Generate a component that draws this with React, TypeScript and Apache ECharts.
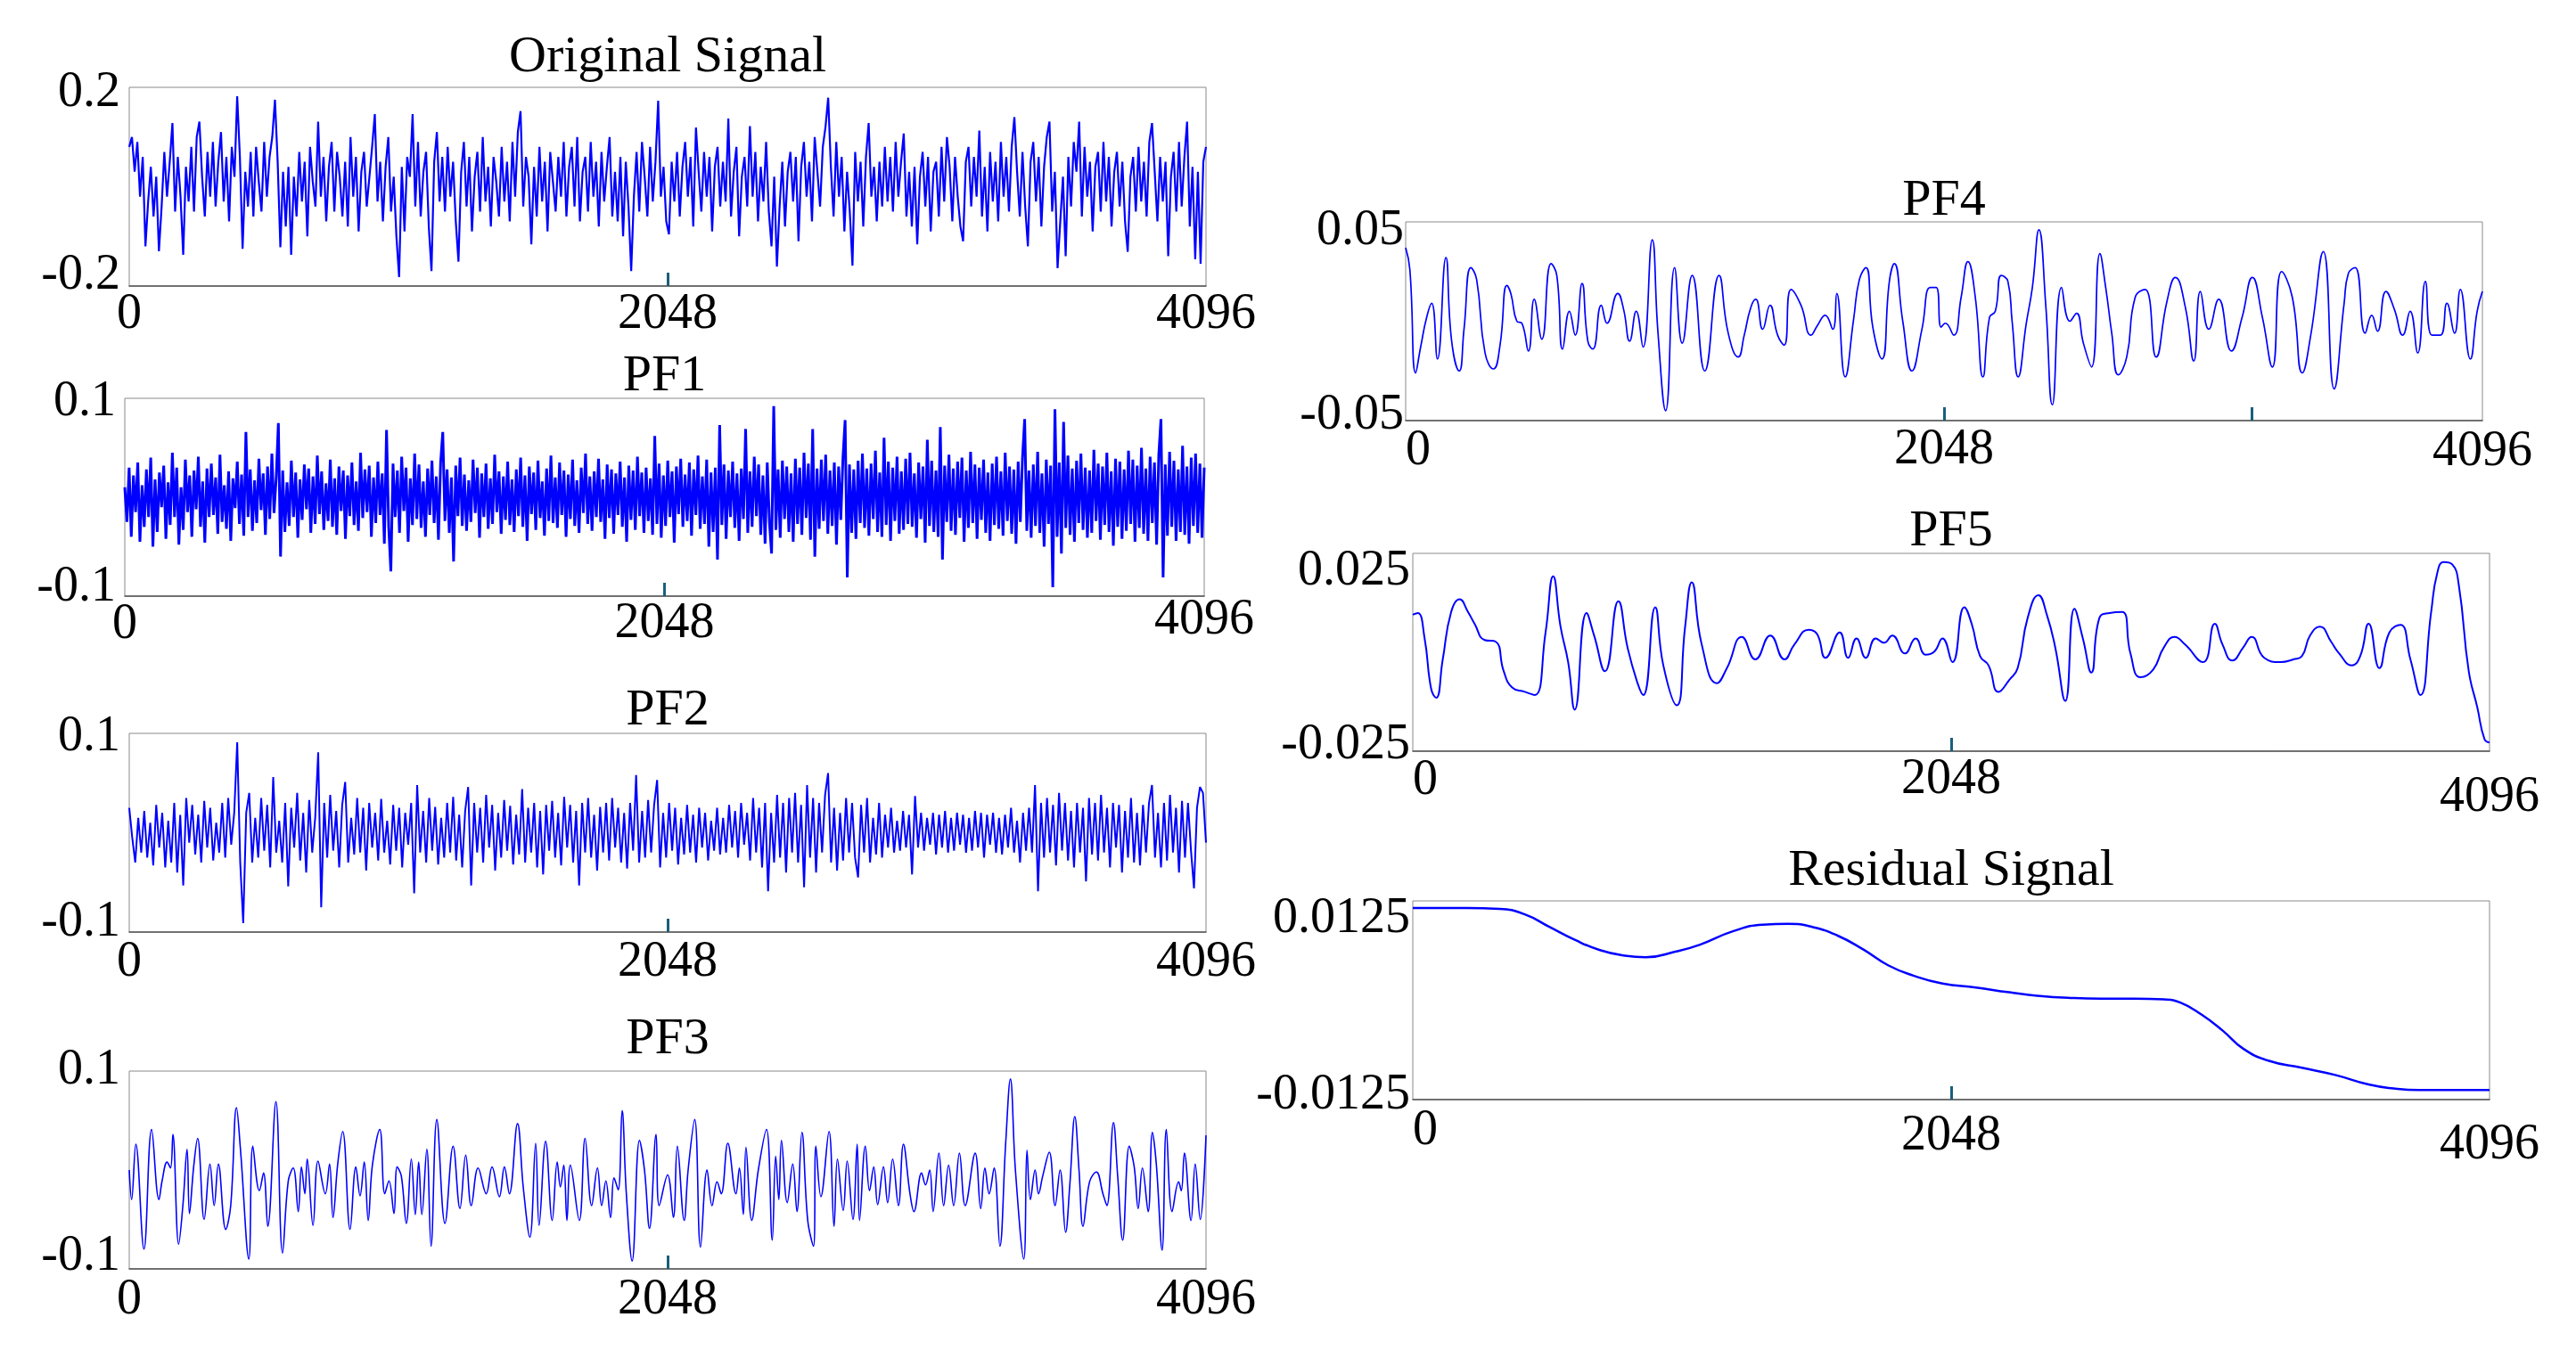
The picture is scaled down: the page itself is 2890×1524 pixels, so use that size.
import React, { useEffect, useRef } from 'react';
import * as echarts from 'echarts';

// ---------- data ----------
const xTickLabels = ['0', '2048', '4096'];
const xTickValues = [0, 2048, 4096];
const sampleCount = 4096;

const titles = ['Original Signal', 'PF1', 'PF2', 'PF3', 'PF4', 'PF5', 'Residual Signal'];
const yTickLabels = [
  ['-0.2', '0.2'],
  ['-0.1', '0.1'],
  ['-0.1', '0.1'],
  ['-0.1', '0.1'],
  ['-0.05', '0.05'],
  ['-0.025', '0.025'],
  ['-0.0125', '0.0125'],
];
const yLimits = [0.2, 0.1, 0.1, 0.1, 0.05, 0.025, 0.0125];
const extraTicks = [[2048], [2048], [2048], [2048], [2048, 3220], [2048], [2048]];

// uniformly sampled noisy signals (values only)
const originalSignal = [
  .08,.1,.03,.09,-.02,.06,-.12,-.03,.04,-.06,.02,-.13,-.04,.07,-.02,.05,.128,-.05,.06,-.02,
  -.137,.04,-.03,.08,-.05,.1,.131,.02,-.06,.07,-.02,.09,-.04,.05,.11,-.03,.06,-.07,.08,.02,
  .182,.06,-.125,.03,-.04,.07,-.06,.08,.01,-.05,.09,-.02,.06,.1,.175,.05,-.122,.03,-.08,.04,
  -.137,.02,-.06,.07,-.03,.05,-.1,.08,.01,-.04,.131,-.02,.06,-.07,.04,.09,-.05,.07,.02,-.06,
  .05,-.08,.1,-.02,.06,-.09,.03,.07,-.04,.02,.08,.146,-.03,.05,-.07,.04,.1,-.05,.02,-.1,
  -.182,.04,-.09,.06,.02,.146,-.04,.09,-.06,.03,.07,-.08,-.17,.05,.11,-.03,.06,-.05,.08,-.02,
  .05,-.07,-.151,.03,.09,-.04,.06,-.09,.02,.07,-.05,.1,-.03,.04,-.08,.06,.01,-.06,.08,-.03,
  .05,-.07,.09,-.02,.11,.152,-.04,.06,.02,-.116,.04,-.06,.08,-.03,.05,-.09,.07,.01,-.05,.06,
  -.02,.09,-.06,.04,.08,-.04,.1,-.07,.03,.06,-.05,.09,-.02,.05,-.08,.07,-.03,.04,.1,-.06,
  .03,-.07,.06,-.1,.05,-.04,-.17,-.02,.07,-.05,.09,.02,-.06,.08,-.03,.05,.173,-.02,.04,-.07,
  -.096,.05,-.03,.07,-.06,.04,.09,-.02,.06,-.08,.119,.03,-.05,.07,-.02,.06,-.09,.04,.08,-.04,
  .05,-.03,.137,-.06,.03,.08,-.1,.02,.06,-.04,.122,-.02,.07,-.07,.04,-.03,.09,-.05,-.12,.02,
  -.161,-.04,.05,-.08,.03,.07,-.03,.06,-.11,.04,.09,-.02,.05,-.07,.1,.03,-.04,.08,.12,.179,
  .04,-.06,.09,-.02,.06,-.09,.03,-.05,-.159,.07,-.03,.05,-.08,.06,.128,-.02,.04,-.07,.05,-.04,
  .08,-.03,.06,-.05,.09,-.02,.05,.107,-.06,.03,-.08,.04,-.116,.02,.07,-.04,.06,-.09,.03,.05,
  -.06,.08,-.03,.1,.04,-.07,.06,-.02,-.08,-.11,.05,.08,-.04,.06,-.02,.113,-.06,.04,-.09,.07,
  -.03,.05,-.07,.09,-.02,.06,-.05,.08,.14,.03,-.06,.07,-.04,-.12,.05,.09,-.03,.06,-.08,.04,
  .1,.131,-.05,.03,-.164,-.07,.02,-.14,.06,-.04,.09,.03,.131,-.06,.08,-.02,.05,-.09,.04,.07,
  -.05,.09,-.03,.06,-.08,.03,.07,-.04,.05,-.07,-.131,.02,.06,-.05,.08,-.03,.05,-.06,.09,.128,
  .03,-.07,.06,-.03,.05,-.14,.02,.07,-.05,.09,-.04,.06,.131,-.08,.04,-.146,.03,-.155,.05,.08,
];

const pf1Signal = [
  .01,-.025,.03,-.04,.022,-.015,.035,-.045,.012,-.03,.028,-.02,.04,-.05,.018,-.035,.025,-.01,.032,-.042,
  .015,-.028,.045,-.02,.03,-.048,.01,-.033,.038,-.015,.022,-.04,.027,-.012,.041,-.03,.016,-.046,.029,-.02,
  .034,-.018,.02,-.037,.043,-.025,.012,-.032,.026,-.044,.019,-.011,.036,-.027,.023,-.039,.066,-.02,.028,-.034,
  .017,-.026,.039,-.013,.024,-.038,.031,-.022,.044,-.016,.02,.075,-.06,.027,-.035,.015,-.029,.037,-.02,.025,
  -.041,.018,-.023,.033,-.012,.029,-.036,.021,-.027,.042,-.017,.026,-.033,.014,-.024,.038,-.03,.019,-.038,.031,
  -.014,.027,-.042,.022,-.019,.035,-.028,.016,-.034,.045,-.021,.028,-.015,.032,-.04,.02,-.026,.036,-.018,.024,
  -.047,.068,-.03,-.075,.034,-.02,.027,-.036,.041,-.014,.03,-.045,.019,-.028,.044,-.022,.033,-.031,.016,-.04,
  .029,-.018,.037,-.026,.021,-.043,.035,.066,-.024,.028,-.036,.02,-.065,.032,-.019,.04,-.029,.023,-.034,.017,
  -.025,.038,-.016,.03,-.041,.024,-.02,.034,-.032,.019,-.027,.043,-.015,.026,-.037,.021,-.023,.036,-.028,.018,
  -.035,.028,-.019,.04,-.03,.022,-.044,.031,-.017,.025,-.033,.037,-.021,.016,-.039,.029,-.024,.042,-.026,.02,
  -.031,.035,-.018,.027,-.04,.023,-.022,.038,-.029,.017,-.036,.03,-.016,.044,-.027,.021,-.034,.026,-.02,.039,
  -.025,.018,-.042,.033,-.021,.028,-.037,.024,-.018,.036,-.03,.02,-.045,.032,-.023,.027,-.033,.041,-.019,.025,
  -.036,.03,-.024,.019,-.038,.062,-.027,.034,-.041,.022,-.029,.037,-.02,.026,-.046,.031,-.017,.039,-.03,.023,
  -.024,.035,-.039,.028,-.018,.042,-.032,.021,-.027,.038,-.05,.025,-.035,.03,-.063,.073,-.028,.033,-.042,.027,
  -.02,.036,-.031,.024,-.044,.029,-.022,.069,-.036,.026,-.03,.041,-.019,.033,-.038,.022,-.047,.035,-.025,-.057,
  .092,-.033,.028,-.041,.037,-.022,.031,-.035,.024,-.045,.039,-.027,.03,-.038,.045,-.021,.034,-.043,.069,-.06,
  .029,-.032,.038,-.024,.043,-.037,.027,-.029,.035,-.048,.031,-.023,.04,.078,-.081,.033,-.036,.028,-.042,.037,
  -.026,.044,-.031,.029,-.039,.034,-.022,.047,-.035,.025,-.04,.06,-.028,.036,-.044,.03,-.024,.041,-.037,.026,
  -.033,.039,-.027,.045,-.03,.024,-.041,.035,-.022,.031,-.046,.058,-.029,.037,-.035,.027,-.04,.071,-.063,.032,
  -.025,.043,-.034,.029,-.038,.036,-.021,.04,-.045,.027,-.031,.046,-.026,.033,-.042,.03,-.023,.038,-.036,.025,
  -.044,.034,-.028,.041,-.032,.026,-.039,.045,-.024,.031,-.037,.028,-.047,.036,-.025,.04,.079,-.034,.027,-.041,
  .033,-.029,.046,-.036,.024,-.05,.038,-.027,.032,-.091,.089,-.04,.035,-.057,.076,-.031,.042,-.038,.029,-.045,
  .037,-.026,.044,-.033,.03,-.041,.027,-.036,.048,-.024,.034,-.043,.031,-.028,.045,-.035,.026,-.049,.039,-.03,
  .036,-.042,.028,-.034,.047,-.027,.038,-.045,.032,-.031,.05,-.037,.029,-.044,.041,-.026,.035,-.048,.043,.079,
  -.081,.033,-.039,.046,-.03,.037,-.044,.028,-.035,.052,-.038,.031,-.047,.04,-.029,.044,-.036,.034,-.041,.03,
];

const pf2Signal = [
  .025,-.005,-.03,.015,-.02,.022,-.025,.01,-.033,.028,-.015,.02,-.035,.012,-.03,.03,-.04,.018,-.053,.035,
  -.01,.028,-.022,.018,-.03,.032,-.015,.025,-.028,.01,-.02,.03,-.025,.035,-.012,.02,.091,-.03,-.091,.02,
  .04,-.03,.015,-.025,.035,-.018,.028,-.035,.056,-.02,.012,-.03,.03,-.054,.025,-.015,.04,-.028,.02,-.04,
  .033,-.02,.015,.081,-.075,.03,-.025,.038,-.018,.022,-.035,.028,.051,-.03,.015,-.022,.035,-.02,.025,-.038,
  .03,-.015,.02,-.028,.034,-.02,.012,-.032,.028,-.018,.025,-.035,.02,-.012,.03,-.061,.048,-.02,.022,-.03,
  .035,-.018,.026,-.032,.015,-.025,.03,-.02,.036,-.028,.018,-.035,.022,.046,-.053,.03,-.02,.025,-.03,.038,
  -.015,.028,-.038,.02,-.025,.033,-.018,.027,-.032,.018,-.022,.044,-.03,.025,-.02,.03,-.035,.022,-.042,.028,
  -.018,.032,-.025,.02,-.033,.036,-.015,.028,-.03,.022,-.053,.03,-.02,.035,-.025,.018,-.038,.026,-.02,.03,
  -.028,.035,-.015,.025,-.03,.02,-.036,.03,-.018,.058,-.03,.022,-.025,.033,-.02,.028,.053,-.035,.02,-.025,
  .03,-.018,.025,-.032,.015,-.022,.028,-.02,.018,-.03,.025,-.015,.02,-.028,.012,-.018,.025,-.022,.015,-.02,
  .028,-.015,.022,-.025,.03,-.012,.02,-.028,.035,-.02,.025,-.035,.03,-.059,.02,-.03,.038,-.025,.03,-.04,
  .035,-.02,.04,-.03,.028,-.055,.048,-.025,.035,-.04,.03,-.02,.038,.06,-.03,.025,-.038,.02,-.028,.035,
  -.02,.03,-.025,-.045,.028,-.02,.035,-.03,.015,-.022,.03,-.025,.018,-.015,.025,-.02,.012,-.018,.022,-.015,
  .018,-.042,.037,-.015,.02,-.018,.015,-.012,.02,-.022,.018,-.015,.022,-.02,.015,-.018,.02,-.012,.018,-.02,
  .015,-.018,.022,-.015,.02,-.025,.018,-.012,.02,-.02,.015,-.022,.018,-.015,.025,-.02,.012,-.03,.02,-.018,
  .025,-.02,.048,-.059,.03,-.025,.035,-.02,.028,-.033,.04,-.018,.03,-.028,.022,-.035,.03,-.02,.025,-.049,
  .035,-.022,.03,-.028,.038,-.02,.025,-.035,.03,-.015,.028,-.04,.022,-.025,.035,-.03,.02,-.033,.028,-.02,
  .03,.048,-.025,.02,-.035,.03,-.028,.038,-.02,.025,-.04,.032,-.025,.03,-.018,-.056,.025,.046,.04,-.01,
];

// smoother components: [sample index, value] read at turning points
const pf3Points = [
  [0,0],[9,-.030],[25,.026],[56,-.080],[85,.041],[113,-.030],[125,-.011],[144,.008],[157,.002],[166,.036],
  [188,-.075],[204,-.036],[220,.021],[229,-.044],[245,.003],[260,.032],[285,-.050],[307,.006],[323,-.036],[339,.006],
  [367,-.060],[386,-.036],[408,.063],[423,.021],[455,-.090],[470,.024],[495,-.021],[511,-.003],[527,-.057],[558,.069],
  [583,-.084],[605,-.011],[624,.002],[643,-.042],[655,.003],[668,-.024],[677,.011],[699,-.056],[718,.009],[746,-.024],
  [762,.006],[775,-.048],[793,.006],[812,.039],[840,-.060],[862,.003],[878,-.026],[894,.008],[909,-.051],[925,.005],
  [953,.041],[972,-.024],[988,-.011],[1007,-.044],[1019,.003],[1035,-.006],[1054,-.054],[1073,.011],[1088,-.045],[1101,.008],
  [1113,-.045],[1132,.021],[1148,-.077],[1170,.051],[1201,-.054],[1232,.024],[1258,-.039],[1280,.015],[1301,-.036],[1327,.002],
  [1358,-.024],[1380,.003],[1408,-.027],[1427,.003],[1446,-.024],[1477,.047],[1499,-.018],[1524,-.068],[1546,.027],[1559,-.056],
  [1584,.029],[1609,-.051],[1628,.008],[1640,-.017],[1653,.005],[1665,-.051],[1678,.005],[1712,-.051],[1734,.032],[1759,-.036],
  [1781,.002],[1797,-.036],[1813,-.011],[1831,-.048],[1844,-.008],[1860,-.020],[1875,.060],[1891,-.024],[1913,-.092],[1941,.030],
  [1960,0],[1979,-.059],[2004,.036],[2016,-.036],[2048,-.005],[2070,-.048],[2085,.024],[2111,-.051],[2126,0],[2151,.051],
  [2173,-.078],[2198,0],[2217,-.036],[2236,-.012],[2252,-.024],[2277,.027],[2308,-.024],[2321,.002],[2336,-.045],[2346,.023],
  [2368,-.051],[2393,0],[2424,.041],[2446,-.071],[2459,.014],[2471,-.030],[2481,.030],[2503,-.033],[2524,.006],[2540,-.042],
  [2559,.038],[2581,-.051],[2603,-.077],[2612,.024],[2631,-.027],[2662,.039],[2681,-.057],[2694,.011],[2716,-.041],[2731,.009],
  [2753,-.050],[2769,.026],[2778,-.051],[2800,.024],[2816,-.021],[2832,.003],[2847,-.035],[2869,.003],[2885,-.033],[2904,.011],
  [2926,-.036],[2945,.026],[2970,-.024],[2985,-.042],[3014,-.003],[3029,-.015],[3045,0],[3058,-.042],[3080,.017],[3098,-.036],
  [3117,.005],[3136,-.036],[3158,.017],[3180,-.036],[3218,.017],[3239,-.039],[3255,.002],[3271,-.024],[3290,.002],[3312,-.077],
  [3334,.027],[3352,.092],[3371,0],[3403,-.090],[3415,.020],[3428,-.030],[3446,0],[3459,-.024],[3475,-.006],[3500,.018],
  [3522,-.036],[3541,0],[3562,-.063],[3578,-.015],[3597,.054],[3613,0],[3628,-.057],[3653,-.012],[3679,-.002],[3704,-.024],
  [3719,-.036],[3744,.048],[3760,-.006],[3779,-.071],[3804,.024],[3823,.003],[3838,-.039],[3854,.002],[3876,-.042],[3892,.038],
  [3907,.006],[3929,-.081],[3945,.041],[3967,-.042],[3992,-.012],[4002,-.021],[4014,.017],[4039,-.051],[4055,.006],[4074,-.050],
  [4096,.035],
];

const pf4Points = [
  [0,.037],[16,.026],[38,-.026],[57,-.013],[80,.002],[99,.009],[121,-.019],[153,.032],[175,-.010],[204,-.025],
  [222,-.004],[248,.027],[270,.021],[302,-.016],[334,-.024],[359,-.012],[385,.018],[400,.014],[423,0],[442,-.001],
  [467,-.015],[489,.011],[518,-.009],[553,.029],[575,.023],[597,-.014],[623,.005],[645,-.007],[671,.019],[693,-.010],
  [712,-.014],[744,.008],[766,-.001],[807,.014],[829,.006],[852,-.010],[877,.005],[903,-.013],[938,.041],[960,-.006],
  [989,-.045],[1023,.027],[1052,-.011],[1090,.023],[1138,-.025],[1192,.023],[1227,-.006],[1265,-.018],[1288,-.007],[1313,.007],
  [1332,.011],[1358,-.004],[1386,.008],[1415,-.007],[1440,-.012],[1466,.016],[1504,.008],[1542,-.007],[1567,-.002],[1596,.003],
  [1625,-.004],[1640,.014],[1672,-.028],[1704,.001],[1726,.021],[1751,.027],[1777,-.003],[1812,-.019],[1840,.020],[1859,.029],
  [1891,0],[1926,-.025],[1964,-.004],[1996,.017],[2018,.017],[2037,-.003],[2053,-.001],[2085,-.007],[2113,.012],[2139,.030],
  [2167,.012],[2196,-.028],[2221,.002],[2243,.005],[2266,.023],[2291,.020],[2307,0],[2330,-.028],[2361,-.001],[2384,.017],
  [2409,.046],[2435,.008],[2460,-.042],[2495,.017],[2527,0],[2552,.004],[2578,-.011],[2609,-.023],[2641,.034],[2663,.017],
  [2686,-.006],[2711,-.027],[2743,-.018],[2775,.012],[2813,.016],[2855,-.018],[2896,.010],[2928,.022],[2966,.007],[2998,-.020],
  [3023,.015],[3055,-.004],[3093,.011],[3141,-.015],[3182,.002],[3221,.022],[3259,.002],[3297,-.023],[3332,.025],[3373,.012],
  [3411,-.026],[3443,-.007],[3491,.035],[3532,-.034],[3570,.009],[3586,.024],[3612,.027],[3650,-.006],[3675,.003],[3697,-.005],
  [3729,.015],[3761,.006],[3793,-.007],[3821,.005],[3850,-.016],[3879,.020],[3904,-.007],[3936,-.007],[3961,.009],[3990,-.006],
  [4012,.016],[4050,-.019],[4076,.005],[4096,.015],
];

const pf5Points = [
  [0,.0095],[19,.0099],[45,.0035],[70,-.0093],[89,-.0115],[114,-.0018],[146,.0102],[178,.0134],[210,.0102],[235,.0072],
  [273,.0031],[315,.0027],[346,-.0048],[378,-.0089],[426,-.0100],[464,-.0108],[505,.0050],[534,.0192],[562,.0065],[591,-.0025],
  [616,-.0145],[661,.0099],[690,.0042],[731,-.0048],[782,.0129],[817,.0012],[855,-.0078],[877,-.0108],[922,.0114],[953,-.0033],
  [1004,-.0134],[1036,.0065],[1061,.0177],[1099,.0020],[1157,-.0078],[1195,-.0040],[1252,.0039],[1303,-.0018],[1360,.0042],[1414,-.0018],
  [1452,.0020],[1506,.0057],[1538,.0046],[1570,-.0014],[1624,.0050],[1656,-.0014],[1688,.0035],[1723,-.0014],[1761,.0035],[1792,.0024],
  [1824,.0042],[1872,-.0003],[1913,.0035],[1951,-.0006],[1983,.0001],[2015,.0035],[2053,-.0025],[2098,.0114],[2126,.0072],[2158,-.0010],
  [2190,-.0033],[2228,-.0100],[2269,-.0070],[2301,-.0040],[2339,.0087],[2380,.0144],[2412,.0095],[2444,.0012],[2482,-.0123],[2517,.0110],
  [2549,.0035],[2581,-.0051],[2612,.0087],[2650,.0099],[2698,.0102],[2730,-.0003],[2768,-.0063],[2816,-.0044],[2857,.0012],[2898,.0039],
  [2937,.0020],[3006,-.0025],[3051,.0072],[3080,.0020],[3118,-.0021],[3159,.0012],[3191,.0039],[3239,-.0014],[3302,-.0025],[3350,-.0018],
  [3382,-.0010],[3413,.0042],[3451,.0065],[3493,.0027],[3524,-.0003],[3572,-.0033],[3604,-.0010],[3636,.0072],[3677,-.0040],[3715,.0050],
  [3757,.0069],[3795,-.0018],[3833,-.0108],[3874,.0102],[3897,.0200],[3922,.0228],[3954,.0222],[3979,.0170],[4017,-.0048],[4049,-.0138],
  [4077,-.0220],[4096,-.0228],
];

const residualPoints = [
  [0,.0116],[76,.0116],[203,.0116],[330,.0115],[426,.0108],[521,.0092],[616,.0076],[712,.0063],[807,.0056],[886,.0054],
  [998,.0061],[1093,.0070],[1220,.0087],[1331,.0095],[1427,.0096],[1522,.0092],[1618,.0081],[1713,.0064],[1808,.0044],[1904,.0031],
  [2015,.0021],[2142,.0016],[2269,.0010],[2396,.0005],[2492,.0003],[2619,.0002],[2746,.0002],[2857,.0001],[2920,-.0003],[3000,-.0018],
  [3080,-.0038],[3159,-.0061],[3254,-.0076],[3382,-.0085],[3509,-.0094],[3636,-.0106],[3731,-.0111],[3827,-.0113],[3954,-.0113],[4096,-.0113],
];

// ---------- layout & style ----------
const FONT = 'Liberation Serif';
const LABEL_SIZE = 56;
const LABEL_LINE = 38;
const TITLE_SIZE = 58;
const BLUE = '#0000ff';
const TICK_COLOR = '#1a5f7a';

const gridRects = [
  { left: 145, top: 98, width: 1208, height: 223 },
  { left: 140, top: 447, width: 1211, height: 222 },
  { left: 145, top: 823, width: 1208, height: 223 },
  { left: 145, top: 1202, width: 1208, height: 222 },
  { left: 1577, top: 249, width: 1208, height: 223 },
  { left: 1585, top: 621, width: 1208, height: 222 },
  { left: 1585, top: 1011, width: 1208, height: 223 },
];
const titleCenterY = [60, 418, 793, 1162, 221, 592, 973];
// vertical shift (px, + = down) of max / min y label
const yLabelShift = [[2, -16], [0, -14], [0, -15], [-5, -18], [6, -10], [16, -11], [16, -9]];
const yLabelMargin = [10, 10, 10, 10, 2, 3, 3];
// distance from axis line to centre of each x label (0, 2048, 4096)
const xLabelOffset = [
  [28, 28, 28], [32, 31, 23], [30, 30, 30], [31, 31, 31], [30, 29, 32], [29, 28, 68], [31, 43, 62],
];
// horizontal nudge (px, + = right) of the "0" label, keeps it clear of the min y label
const zeroLabelNudge = [0, 0, 0, 0, 14, 14, 14];
const lineWidths = [2.2, 3, 2, 1.6, 1.7, 2, 2.5];
const smoothFlags = [false, false, false, 0.4, 0.5, 0.5, 0.5];

const toSamples = (vals: number[]) =>
  vals.map((v, i) => [(i * sampleCount) / (vals.length - 1), v]);

const seriesData = [
  toSamples(originalSignal),
  toSamples(pf1Signal),
  toSamples(pf2Signal),
  pf3Points,
  pf4Points,
  pf5Points,
  residualPoints,
];

function buildOption() {
  const grid: any[] = [];
  const xAxis: any[] = [];
  const yAxis: any[] = [];
  const series: any[] = [];
  const graphic: any[] = [];

  gridRects.forEach((r, i) => {
    grid.push({
      ...r,
      show: true,
      borderColor: '#8a8a8a',
      borderWidth: 1,
      backgroundColor: 'transparent',
    });

    const offs = xLabelOffset[i];
    const minOff = Math.min(...offs);
    const half = LABEL_LINE / 2;
    const xRich: any = {};
    ['a', 'b', 'c'].forEach((k, j) => {
      xRich[k] = {
        fontFamily: FONT,
        fontSize: LABEL_SIZE,
        color: '#000',
        lineHeight: LABEL_LINE,
        padding: [offs[j] - minOff, 0, 0, j === 0 ? 2 * zeroLabelNudge[i] : 0],
      };
    });

    xAxis.push({
      gridIndex: i,
      type: 'value',
      min: 0,
      max: sampleCount,
      interval: 2048,
      axisLine: { show: true, onZero: false, lineStyle: { color: '#555', width: 1.5 } },
      axisTick: {
        show: true,
        inside: true,
        length: 15,
        customValues: extraTicks[i],
        lineStyle: { color: TICK_COLOR, width: 3 },
      },
      axisLabel: {
        show: true,
        margin: minOff - half,
        showMinLabel: true,
        showMaxLabel: true,
        hideOverlap: false,
        formatter: (v: number) => {
          const j = xTickValues.findIndex((t) => Math.abs(t - v) < 1);
          if (j < 0) return '';
          return `{${['a', 'b', 'c'][j]}|${xTickLabels[j]}}`;
        },
        rich: xRich,
      },
      splitLine: { show: false },
    });

    const lim = yLimits[i];
    const [upShift, loShift] = yLabelShift[i];
    const pad = (s: number) => (s >= 0 ? [2 * s, 0, 0, 0] : [0, 0, -2 * s, 0]);
    yAxis.push({
      gridIndex: i,
      type: 'value',
      min: -lim,
      max: lim,
      interval: lim,
      axisLine: { show: false },
      axisTick: { show: false },
      splitLine: { show: false },
      axisLabel: {
        show: true,
        margin: yLabelMargin[i],
        showMinLabel: true,
        showMaxLabel: true,
        hideOverlap: false,
        formatter: (v: number) => {
          if (v > lim / 2) return `{hi|${yTickLabels[i][1]}}`;
          if (v < -lim / 2) return `{lo|${yTickLabels[i][0]}}`;
          return '';
        },
        rich: {
          hi: { fontFamily: FONT, fontSize: LABEL_SIZE, color: '#000', lineHeight: LABEL_LINE, padding: pad(upShift) },
          lo: { fontFamily: FONT, fontSize: LABEL_SIZE, color: '#000', lineHeight: LABEL_LINE, padding: pad(loShift) },
        },
      },
    });

    series.push({
      type: 'line',
      name: titles[i],
      xAxisIndex: i,
      yAxisIndex: i,
      data: seriesData[i],
      showSymbol: false,
      symbol: 'none',
      smooth: smoothFlags[i],
      clip: true,
      silent: true,
      lineStyle: { color: BLUE, width: lineWidths[i], join: 'miter', miterLimit: 2 },
    });

    graphic.push({
      type: 'text',
      x: r.left + r.width / 2,
      y: titleCenterY[i],
      silent: true,
      style: {
        text: titles[i],
        fontFamily: FONT,
        fontSize: TITLE_SIZE,
        fill: '#000',
        align: 'center',
        verticalAlign: 'middle',
      },
    });
  });

  return {
    animation: false,
    backgroundColor: '#ffffff',
    grid,
    xAxis,
    yAxis,
    series,
    graphic,
  };
}

export default function App() {
  const ref = useRef<HTMLDivElement>(null);
  useEffect(() => {
    document.body.style.margin = '0';
    document.body.style.overflow = 'hidden';
    if (!ref.current) return;
    const chart = echarts.init(ref.current, undefined, { renderer: 'svg' });
    chart.setOption(buildOption() as any);
    return () => chart.dispose();
  }, []);
  return <div ref={ref} style={{ width: 2890, height: 1524, background: '#fff' }} />;
}
